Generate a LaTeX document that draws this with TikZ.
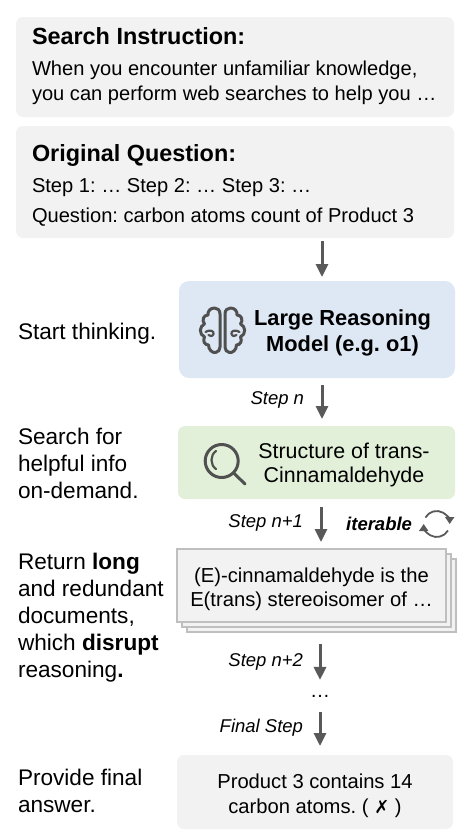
\documentclass[tikz,border=0pt]{standalone}
\usepackage{fontspec}
\setmainfont{Liberation Sans}
\newfontfamily\symfont{DejaVu Sans}
\usetikzlibrary{arrows.meta,shapes.misc}
\definecolor{boxgray}{HTML}{F2F2F2}
\definecolor{docline}{HTML}{BFBFBF}
\definecolor{modelblue}{HTML}{DEE8F5}
\definecolor{searchgreen}{HTML}{E2F0D9}
\definecolor{arrowgray}{HTML}{595959}
\definecolor{icongray}{HTML}{505050}
\frenchspacing
\begin{document}
\begin{tikzpicture}[
    x=1pt, y=-1pt,
    every node/.style={inner sep=0pt, outer sep=0pt},
    panel/.style={rounded corners=7pt, minimum width=#1, fill=boxgray},
    docpage/.style={chamfered rectangle, chamfered rectangle corners=north east,
      chamfered rectangle xsep=11pt, chamfered rectangle ysep=11pt,
      draw=docline, line width=2pt, fill=boxgray, minimum width=269pt, minimum height=73pt},
    flow/.style={-{Triangle[length=13pt,width=12pt]}, line width=3pt, arrowgray},
    icon/.style={icongray, line width=3pt, line cap=round, line join=round},
    head/.style={font=\fontsize{23.4}{26}\selectfont\bfseries, anchor=base west},
    body/.style={font=\fontsize{20.1}{25}\selectfont, anchor=base west},
    inbox/.style={font=\fontsize{20.2}{24.5}\selectfont, align=center},
    side/.style={font=\fontsize{22.6}{27}\selectfont, align=left, anchor=west},
    steptag/.style={font=\fontsize{18.5}{20}\selectfont\itshape, anchor=east},
    brainhalf/.pic={
      \draw[icon] (-2.5,-16) .. controls (-2.5,-20) and (-5,-22) .. (-8,-22)
        .. controls (-12,-22) and (-15,-19) .. (-14.5,-15)
        .. controls (-19,-15) and (-21,-10) .. (-18,-6)
        .. controls (-23,-4) and (-24,4) .. (-18,7)
        .. controls (-20,11) and (-18,15) .. (-14,15)
        .. controls (-14,20) and (-10,23) .. (-7,22.5)
        .. controls (-4,22) and (-2.5,20) .. (-2.5,17) -- cycle;
      \draw[icon, line width=2.2pt] (-17,2) .. controls (-13,-1) and (-8,1) .. (-9,4)
        .. controls (-10,7) and (-13,6) .. (-14,5);
    }
]
  % Gray prompt panels
  \node[panel=438pt, minimum height=100pt] (instruction) at (235,67) {};
  \node[panel=438pt, minimum height=112pt] (question) at (235,182) {};
  \node[head] (instructionhead) at (32,44) {Search Instruction:};
  \node[body] (instructionone) at (32,75) {When you encounter unfamiliar knowledge,};
  \node[body] (instructiontwo) at (32,100) {you can perform web searches to help you …};
  \node[head] (questionhead) at (32,161) {Original Question:};
  \node[body] (questionone) at (32,192.5) {Step 1: … Step 2: … Step 3: …};
  \node[body] (questiontwo) at (32,222) {Question: carbon atoms count of Product 3};

  % Model and search query
  \node[panel=276pt, minimum height=97pt, fill=modelblue, rounded corners=10pt] (model) at (317,329.5) {};
  \node[font=\fontsize{21.8}{26}\selectfont\bfseries, align=center] (modeltext) at (342.5,333) {Large Reasoning\\ Model (e.g. o1)};
  \node[panel=277pt, minimum height=73pt, fill=searchgreen] (search) at (316.5,462.5) {};
  \node[inbox, font=\fontsize{21.4}{24.5}\selectfont] (searchtext) at (344,465) {Structure of trans-\\ Cinnamaldehyde};

  % Icons
  \pic at (222.5,330) {brainhalf};
  \pic[xscale=-1] at (222.5,330) {brainhalf};
  \draw[icon] (221.7,461) circle (16.5);
  \draw[icon] (233.5,472.8) -- (245,484);
  \draw[icon, line width=2.2pt] (216,451) .. controls (210,455) and (210,465) .. (216,469);

  % Stack of returned documents
  \node[docpage] (docback) at (321.5,595.5) {};
  \node[docpage] (docmid) at (316.5,590.5) {};
  \node[docpage] (docfront) at (311.5,585.5) {};
  \node[inbox] (doctext) at (311.5,589.5) {(E)-cinnamaldehyde is the\\ E(trans) stereoisomer of …};

  % Dots and final answer
  \node[font=\fontsize{20}{24}\selectfont] (dots) at (320,696) {…};
  \node[panel=276pt, minimum height=74pt] (answer) at (315,792) {};
  \node[inbox] (answertext) at (315,796) {Product 3 contains 14\\ carbon atoms. ( {\symfont\bfseries\fontsize{18}{20}\selectfont ✗} )};

  % Left comments
  \node[side] (startnote) at (18,333.5) {Start thinking.};
  \node[side] (searchnote) at (18,463) {Search for\\ helpful info\\ on-demand.};
  \node[side] (returnnote) at (18,618) {Return \textbf{long}\\ and redundant\\ documents,\\ which \textbf{disrupt}\\ reasoning\textbf{.}};
  \node[side] (finalnote) at (18,791) {Provide final\\ answer.};

  % Arrows
  \coordinate (upper) at (322,0);
  \coordinate (middle) at (321,0);
  \coordinate (lower) at (320,0);
  \draw[flow, shorten <=3pt, shorten >=4pt] (question.south -| upper) -- (model.north -| upper);
  \draw[flow, shorten <=7pt, shorten >=7pt] (model.south -| upper) -- (search.north -| upper);
  \draw[flow, shorten <=8pt, shorten >=7pt] (search.south -| middle) -- (docfront.north -| middle);
  \draw[flow, shorten <=12pt, shorten >=15pt] (docback.south -| lower) -- (dots.north -| lower);
  \draw[flow, shorten <=15pt, shorten >=9pt] (dots.south -| lower) -- (answer.north -| lower);

  % Step tags
  \node[steptag] (stepn) at (304,400) {Step n};
  \node[steptag] (stepnone) at (303,523) {Step n+1};
  \node[steptag] (stepntwo) at (303,662) {Step n+2};
  \node[steptag] (stepfinal) at (303,728) {Final Step};
  \node[steptag, font=\fontsize{18.5}{20}\selectfont\bfseries\itshape] (iterable) at (412,524) {iterable};

  % Loop icon
  \begin{scope}[shift={(436.7,524)}, y=1pt]
    \draw[arrowgray, line width=1.8pt, -{Triangle[length=7pt,width=9pt]}] (150:13pt) arc[start angle=150, end angle=0, radius=13pt];
    \draw[arrowgray, line width=1.8pt, -{Triangle[length=7pt,width=9pt]}] (-30:13pt) arc[start angle=-30, end angle=-180, radius=13pt];
  \end{scope}
  \useasboundingbox (0,0) rectangle (467,835);
\end{tikzpicture}
\end{document}
